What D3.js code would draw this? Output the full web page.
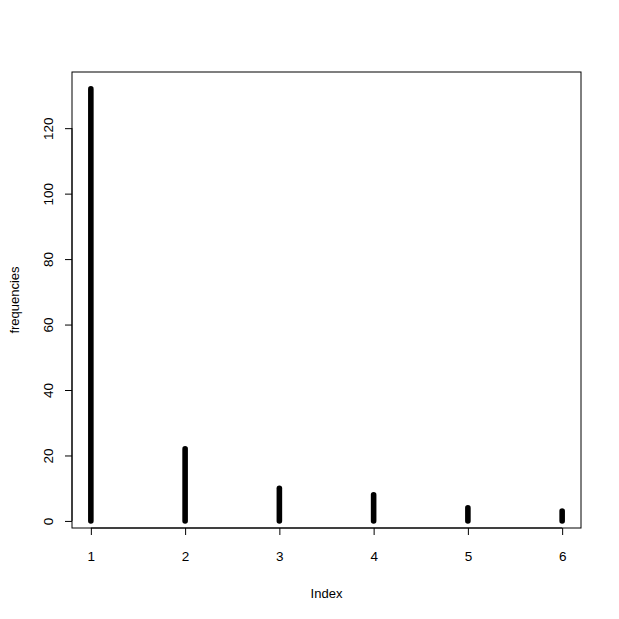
<!DOCTYPE html>
<html lang="en">
<head>
<meta charset="utf-8">
<script src="https://d3js.org/d3.v7.min.js"></script>
<style>
  body { margin: 0; background: #fff; }
  text { font-family: "Liberation Sans", Arial, sans-serif; fill: #000; }
</style>
</head>
<body>
<div id="graph"></div>
<script>
// data
var indexes = [1, 2, 3, 4, 5, 6];
var frequencies = [132, 22, 10, 8, 4, 3];
var xTicks = [1, 2, 3, 4, 5, 6];
var yTicks = [0, 20, 40, 60, 80, 100, 120];

var W = 619, H = 619;
var box = {left: 72, top: 72, right: 581, bottom: 528};

var svg = d3.select("#graph").append("svg")
    .attr("width", W).attr("height", H);

// R style axis extension of 4%
var xr = [1, 6], yr = [d3.min(frequencies), d3.max(frequencies)];
var xpad = (xr[1] - xr[0]) * 0.04, ypad = (yr[1] - yr[0]) * 0.04;

var x = d3.scaleLinear()
    .domain([xr[0] - xpad, xr[1] + xpad])
    .range([box.left, box.right]);
var y = d3.scaleLinear()
    .domain([yr[0] - ypad, yr[1] + ypad])
    .range([box.bottom, box.top]);

// vertical "h" lines
svg.append("g")
  .selectAll("line")
  .data(indexes)
  .enter().append("line")
    .attr("x1", function (d) { return x(d); })
    .attr("x2", function (d) { return x(d); })
    .attr("y1", y(0))
    .attr("y2", function (d, i) { return y(frequencies[i]); })
    .attr("stroke", "#000")
    .attr("stroke-width", 5.6)
    .attr("stroke-linecap", "round");

// plot box
svg.append("rect")
    .attr("x", box.left).attr("y", box.top)
    .attr("width", box.right - box.left).attr("height", box.bottom - box.top)
    .attr("fill", "none").attr("stroke", "#000").attr("stroke-width", 1);

// x axis
var xAxis = svg.append("g")
    .attr("transform", "translate(0," + box.bottom + ")")
    .call(d3.axisBottom(x).tickValues(xTicks).tickSize(7).tickPadding(16).tickFormat(d3.format("d")));
xAxis.select(".domain").attr("d", "M" + x(1) + ",0H" + x(6));
xAxis.selectAll("text").style("font-size", "13.5px").style("font-family", "Liberation Sans, Arial, sans-serif");

// y axis
var yAxis = svg.append("g")
    .attr("transform", "translate(" + box.left + ",0)")
    .call(d3.axisLeft(y).tickValues(yTicks).tickSize(7).tickFormat(d3.format("d")));
yAxis.select(".domain").attr("d", "M0," + y(0) + "V" + y(120));
yAxis.selectAll("text")
    .attr("x", null).attr("dy", null)
    .attr("text-anchor", "middle")
    .attr("transform", "translate(-19,0) rotate(-90)")
    .style("font-size", "13.5px").style("font-family", "Liberation Sans, Arial, sans-serif");

// axis labels
svg.append("text")
    .attr("x", (box.left + box.right) / 2)
    .attr("y", 598)
    .attr("text-anchor", "middle")
    .style("font-size", "13px")
    .text("Index");

svg.append("text")
    .attr("transform", "translate(19," + ((box.top + box.bottom) / 2) + ") rotate(-90)")
    .attr("text-anchor", "middle")
    .style("font-size", "13px")
    .text("frequencies");
</script>
</body>
</html>
